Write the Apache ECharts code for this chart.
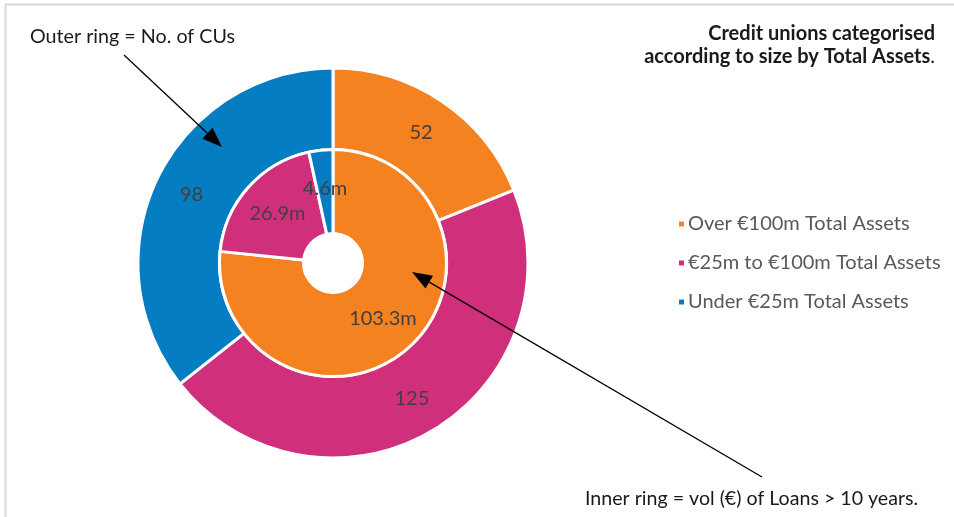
<!DOCTYPE html>
<html>
<head>
<meta charset="utf-8">
<script src="https://cdn.jsdelivr.net/npm/echarts@6/dist/echarts.min.js"></script>
<style>
  html, body { margin: 0; padding: 0; background: #fff; }
  #chart { width: 954px; height: 517px; }
</style>
</head>
<body>
<div id="chart"></div>
<script>
// Size bands of credit unions
const categories = ['Over €100m Total Assets', '€25m to €100m Total Assets', 'Under €25m Total Assets'];
// Outer ring: number of credit unions in each band
const cuCounts = [52, 125, 98];
// Inner ring: volume (€m) of loans with term over 10 years
const loanVolumes = [103.3, 26.9, 4.6];
const bandColors = ['#F58220', '#D0307B', '#047DC2'];

const FONT = 'Lato, "Open Sans", sans-serif';
const center = [333, 263];

const chart = echarts.init(document.getElementById('chart'), null, { renderer: 'canvas' });

// Arrow annotation: shaft plus a filled head at the tip
function arrow(x1, y1, x2, y2) {
  const ang = Math.atan2(y2 - y1, x2 - x1);
  const len = 20, half = 7.5;
  const bx = x2 - len * Math.cos(ang), by = y2 - len * Math.sin(ang);
  const nx = -Math.sin(ang), ny = Math.cos(ang);
  return [
    { type: 'line', z: 100, shape: { x1: x1, y1: y1, x2: bx, y2: by },
      style: { stroke: '#000', lineWidth: 1.3 } },
    { type: 'polygon', z: 100,
      shape: { points: [[x2, y2], [bx + nx * half, by + ny * half], [bx - nx * half, by - ny * half]] },
      style: { fill: '#000' } }
  ];
}

const labelStyle = {
  show: true, position: 'inside', color: '#404040',
  fontFamily: FONT, fontSize: 20
};

const titleRich = {
  b: { fontFamily: FONT, fontWeight: 'bold', fontSize: 20, fill: '#1a1a1a', lineHeight: 23, align: 'right' },
  n: { fontFamily: FONT, fontWeight: 'normal', fontSize: 20, fill: '#1a1a1a', lineHeight: 23 }
};

chart.setOption({
  animation: false,
  backgroundColor: '#fff',
  color: bandColors,
  legend: {
    orient: 'vertical',
    left: 672, top: 209,
    itemWidth: 7, itemHeight: 7, itemGap: 19,
    icon: 'rect',
    data: categories,
    textStyle: { color: '#595959', fontFamily: FONT, fontSize: 20, padding: [0, 0, 0, -2] }
  },
  graphic: [
    // frame
    { type: 'polyline', shape: { points: [[5.5, 517], [5.5, 4.5], [954, 4.5]] },
      style: { stroke: '#d9d9d9', lineWidth: 2, fill: null } },
    { type: 'text', x: 935, y: 22,
      style: { text: '{b|Credit unions categorised}\n{b|according to size by Total Assets}{n|.}',
        align: 'right', verticalAlign: 'top', rich: titleRich } },
    { type: 'text', left: 30, top: 27,
      style: { text: 'Outer ring = No. of CUs', fill: '#1a1a1a', font: '19.7px ' + FONT } },
    { type: 'text', left: 585, top: 489,
      style: { text: 'Inner ring = vol (€) of Loans > 10 years.', fill: '#1a1a1a', font: '19.6px ' + FONT } }
  ].concat(arrow(124, 55, 222, 147), arrow(762, 477, 412, 272)),
  series: [
    {
      name: 'No. of CUs',
      type: 'pie',
      center: center,
      radius: [113.5, 195],
      startAngle: 90,
      clockwise: true,
      silent: true,
      label: Object.assign({}, labelStyle, { formatter: '{c}' }),
      labelLine: { show: false },
      itemStyle: { borderColor: '#fff', borderWidth: 3 },
      data: categories.map((c, i) => ({ name: c, value: cuCounts[i] }))
    },
    {
      name: 'Loans > 10 years',
      type: 'pie',
      center: center,
      radius: [29.5, 113.5],
      startAngle: 90,
      clockwise: true,
      silent: true,
      label: Object.assign({}, labelStyle, { formatter: p => p.value + 'm' }),
      labelLine: { show: false },
      itemStyle: { borderColor: '#fff', borderWidth: 3 },
      data: categories.map((c, i) => ({ name: c, value: loanVolumes[i] }))
    }
  ]
});
</script>
</body>
</html>
